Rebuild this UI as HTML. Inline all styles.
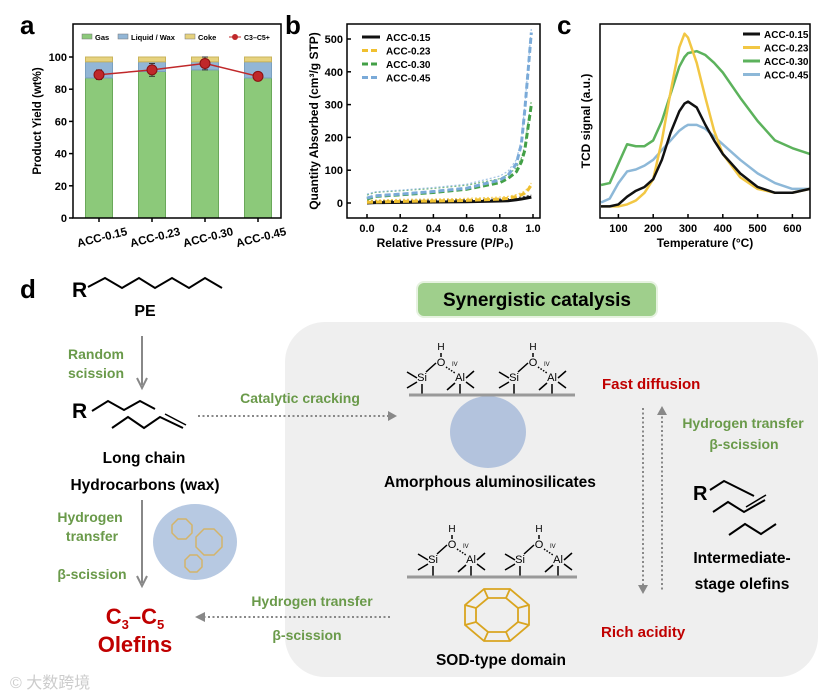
<!DOCTYPE html>
<html><head><meta charset="utf-8"><style>
html,body{margin:0;padding:0;background:#fff}
svg{display:block;font-family:"Liberation Sans",Arial,sans-serif}
.b{font-weight:bold}
</style></head><body>
<svg id="fig" width="827" height="696" viewBox="0 0 827 696" xmlns="http://www.w3.org/2000/svg">
<rect width="827" height="696" fill="#fff"/>
<g id="pa"></g>
<g id="pb"></g>
<g id="pc"></g>
<g id="pd">
<text x="20" y="298" font-size="26" class="b">d</text>
<rect x="285" y="322" width="533" height="355" rx="40" fill="#efefef"/>
<rect x="417" y="282" width="240" height="35" rx="7" fill="#9fcf8c" stroke="#e6f2e0" stroke-width="2"/>
<text x="537" y="306" font-size="19" class="b" text-anchor="middle">Synergistic catalysis</text>
<text x="72" y="297" font-size="21" class="b">R</text>
<polyline points="88,287 105,278 122,288 139,278 155,288 172,278 189,288 205,278 222,288" fill="none" stroke="#000" stroke-width="2"/>
<text x="145" y="316" font-size="16" class="b" text-anchor="middle">PE</text>
<line x1="142" y1="336" x2="142" y2="385" stroke="#888" stroke-width="2"/><path d="M137,378 L142,388 L147,378" fill="none" stroke="#888" stroke-width="2"/>
<g fill="#6a9a4a" font-size="14" class="b" text-anchor="middle">
<text x="96" y="359">Random</text>
<text x="96" y="378">scission</text>
<text x="300" y="403">Catalytic cracking</text>
<text x="90" y="522">Hydrogen</text>
<text x="92" y="541">transfer</text>
<text x="92" y="579">β-scission</text>
<text x="312" y="606">Hydrogen transfer</text>
<text x="307" y="640">β-scission</text>
<text x="743" y="428">Hydrogen transfer</text>
<text x="744" y="449">β-scission</text>
</g>
<text x="72" y="418" font-size="21" class="b">R</text>
<polyline points="92,411 108,401 124,410 140,401 155,409" fill="none" stroke="#000" stroke-width="2"/>
<polyline points="112,428 128,417 144,428 160,417 183,428" fill="none" stroke="#000" stroke-width="2"/>
<line x1="165" y1="414" x2="186" y2="425" stroke="#000" stroke-width="1.5"/>
<g font-size="15.5" class="b" text-anchor="middle">
<text x="144" y="463">Long chain</text>
<text x="145" y="490">Hydrocarbons (wax)</text>
<text x="490" y="487">Amorphous aluminosilicates</text>
<text x="501" y="665">SOD-type domain</text>
<text x="742" y="563">Intermediate-</text>
<text x="742" y="589">stage olefins</text>
</g>
<line x1="198" y1="416" x2="392" y2="416" stroke="#888" stroke-width="2" stroke-dasharray="2,2.5"/><path d="M388,411 L397,416 L388,421Z" fill="#888"/>
<line x1="142" y1="500" x2="142" y2="583" stroke="#888" stroke-width="2"/><path d="M137,576 L142,586 L147,576" fill="none" stroke="#888" stroke-width="2"/>
<g>
<ellipse cx="195" cy="542" rx="42" ry="38" fill="#b7c9e2"/>
<polygon points="172,525 178,519 186,519 192,525 192,533 186,539 178,539 172,533" fill="none" stroke="#d4b46a" stroke-width="1.5"/>
<polygon points="196,537 204,529 214,529 222,537 222,547 214,555 204,555 196,547" fill="none" stroke="#d4b46a" stroke-width="1.5"/>
<polygon points="185,560 190,555 197,555 202,560 202,567 197,572 190,572 185,567" fill="none" stroke="#d4b46a" stroke-width="1.5"/>
</g>
<text x="135" y="624" font-size="22" class="b" fill="#c00000" text-anchor="middle">C<tspan font-size="13" dy="5">3</tspan><tspan dy="-5">–C</tspan><tspan font-size="13" dy="5">5</tspan></text>
<text x="135" y="652" font-size="22" class="b" fill="#c00000" text-anchor="middle">Olefins</text>
<line x1="390" y1="617" x2="202" y2="617" stroke="#888" stroke-width="2" stroke-dasharray="2,2.5"/><path d="M205,612 L195,617 L205,622Z" fill="#888"/>
<text x="10" y="688" font-size="16" fill="#ccc">© 大数跨境</text>
<g id="struct"></g>
<ellipse cx="488" cy="432" rx="38" ry="36" fill="#b3c3dd"/>
<line x1="409" y1="395" x2="575" y2="395" stroke="#999" stroke-width="3"/>
<line x1="407" y1="577" x2="577" y2="577" stroke="#999" stroke-width="3"/>
<g fill="none" stroke="#d9a520" stroke-width="1.8">
<polygon points="484,589 510,589 529,605 529,625 510,641 484,641 465,625 465,605"/>
<polygon points="488,598 506,598 518,608 518,622 506,632 488,632 476,622 476,608"/>
<line x1="484" y1="589" x2="488" y2="598"/><line x1="510" y1="589" x2="506" y2="598"/><line x1="529" y1="605" x2="518" y2="608"/><line x1="529" y1="625" x2="518" y2="622"/><line x1="510" y1="641" x2="506" y2="632"/><line x1="484" y1="641" x2="488" y2="632"/><line x1="465" y1="625" x2="476" y2="622"/><line x1="465" y1="605" x2="476" y2="608"/>
</g>
<text x="602" y="389" font-size="15" class="b" fill="#c00000">Fast diffusion</text>
<text x="601" y="637" font-size="15" class="b" fill="#c00000">Rich acidity</text>
<line x1="643" y1="408" x2="643" y2="588" stroke="#888" stroke-width="2" stroke-dasharray="2,2.5"/><path d="M638,585 L643,594 L648,585Z" fill="#888"/>
<line x1="662" y1="412" x2="662" y2="592" stroke="#888" stroke-width="2" stroke-dasharray="2,2.5"/><path d="M657,415 L662,406 L667,415Z" fill="#888"/>
<text x="693" y="500" font-size="20" class="b">R</text>
<polyline points="710,490 724,481 754,496" fill="none" stroke="#000" stroke-width="2"/>
<polyline points="713,512 728,502 744,512 765,500" fill="none" stroke="#000" stroke-width="2"/>
<line x1="746" y1="507" x2="766" y2="495" stroke="#000" stroke-width="1.5"/>
<polyline points="729,535 745,524 761,534 776,524" fill="none" stroke="#000" stroke-width="2"/>
</g>
<script>
var NS='http://www.w3.org/2000/svg';
function el(p,t,a,txt){var e=document.createElementNS(NS,t);for(var k in a)e.setAttribute(k,a[k]);if(txt!==undefined)e.textContent=txt;p.appendChild(e);return e;}

/* ---------- panel a data ---------- */
var aCats=['ACC-0.15','ACC-0.23','ACC-0.30','ACC-0.45'];
var aGas=[87,91,92,87];
var aLiquid=[10,6,5,10];
var aCoke=[3,3,3,3];
var aC3C5=[89,92,96,88];
var aErr=[3,4,4,1];
var aTicks=[0,20,40,60,80,100];

/* ---------- panel b data ---------- */
var bP=[0.0,0.05,0.2,0.4,0.6,0.8,0.85,0.9,0.93,0.95,0.97,0.99];
var b015=[0,1,2,3,4,6,7,10,12,14,16,18];
var b023=[2,3,5,6,8,12,14,20,25,30,40,55];
var b030=[12,20,25,32,42,62,75,95,125,160,230,300];
var b045=[15,22,27,35,45,70,85,120,180,280,400,520];
var bYTicks=[0,100,200,300,400,500];
var bXTicks=[0.0,0.2,0.4,0.6,0.8,1.0];

/* ---------- panel c data ---------- */
var cTemps=[50,75,100,125,150,175,200,225,250,275,290,300,325,350,375,400,450,500,550,600,650];
var c015=[6,6,7,11,14,16,20,30,44,55,59,60,57,48,40,33,23,16,13,13,15];
var c023=[6,6,6,7,9,13,20,40,65,88,95,93,80,62,45,33,21,15,13,13,15];
var c030=[17,18,28,38,37,37,40,50,64,78,83,85,86,84,80,75,62,50,40,36,33];
var c045=[8,10,18,24,25,27,30,35,40,45,47,48,48,46,42,38,30,23,18,15,15];
var cXTicks=[100,200,300,400,500,600];

/* ===== Panel A ===== */
var pa=document.getElementById('pa');
var aL=73,aR=281,aTop=24,aB=218;
function ay(v){return 218-v*1.61;}
function ax(i){return 99+i*53;}
el(pa,'text',{x:20,y:34,'font-size':26,'font-weight':'bold'},'a');
aTicks.forEach(function(t){
  el(pa,'line',{x1:aL-4,y1:ay(t),x2:aL,y2:ay(t),stroke:'#000','stroke-width':1.5});
  var tx=el(pa,'text',{x:aL-6,y:ay(t)+4,'font-size':11,'font-weight':'bold','text-anchor':'end'},t);
  
  
});
aCats.forEach(function(c,i){
  var x=ax(i),w=27,g=aGas[i],l=aLiquid[i],k=aCoke[i];
  var r1=el(pa,'rect',{x:x-w/2,y:ay(g),width:w,height:ay(0)-ay(g),fill:'#8cc97a',stroke:'#6aa85a'});
  
  
  var r2=el(pa,'rect',{x:x-w/2,y:ay(g+l),width:w,height:ay(g)-ay(g+l),fill:'#92b6d6',stroke:'#7aa0c0'});
  
  
  var r3=el(pa,'rect',{x:x-w/2,y:ay(g+l+k),width:w,height:ay(g+l)-ay(g+l+k),fill:'#e6d27e',stroke:'#c9b45c'});
  
  
  el(pa,'line',{x1:x,y1:ay(aC3C5[i]+aErr[i]),x2:x,y2:ay(aC3C5[i]-aErr[i]),stroke:'#333'});
  el(pa,'line',{x1:x-3,y1:ay(aC3C5[i]+aErr[i]),x2:x+3,y2:ay(aC3C5[i]+aErr[i]),stroke:'#333'});
  el(pa,'line',{x1:x-3,y1:ay(aC3C5[i]-aErr[i]),x2:x+3,y2:ay(aC3C5[i]-aErr[i]),stroke:'#333'});
  el(pa,'line',{x1:x,y1:aB,x2:x,y2:aB+4,stroke:'#000','stroke-width':1.5});
  var lb=el(pa,'text',{x:x+4,y:241,'font-size':11.5,'font-weight':'bold','text-anchor':'middle',transform:'rotate(-14 '+(x+4)+' 241)'},c);
  
  
});
var pts=aC3C5.map(function(v,i){return ax(i)+','+ay(v);}).join(' ');
var ln=el(pa,'polyline',{points:pts,fill:'none',stroke:'#c0282a','stroke-width':1.5});


aC3C5.forEach(function(v,i){
  var d=el(pa,'circle',{cx:ax(i),cy:ay(v),r:5,fill:'#c0282a',stroke:'#8a1010'});
  
  
});
el(pa,'rect',{x:aL,y:aTop,width:aR-aL,height:aB-aTop,fill:'none',stroke:'#000','stroke-width':1.5});
var yt=el(pa,'text',{x:41,y:121,'font-size':11.5,'font-weight':'bold','text-anchor':'middle',transform:'rotate(-90 41 121)'},'Product Yield (wt%)');


var lg=[['#8cc97a',82,'Gas'],['#92b6d6',118,'Liquid / Wax'],['#e6d27e',185,'Coke']];
lg.forEach(function(q){
  el(pa,'rect',{x:q[1],y:34,width:10,height:5,fill:q[0],stroke:'#777','stroke-width':.5});
  var t=el(pa,'text',{x:q[1]+13,y:40,'font-size':7.5,'font-weight':'bold'},q[2]);
  
  
});
el(pa,'line',{x1:229,y1:37,x2:241,y2:37,stroke:'#c0282a'});
el(pa,'circle',{cx:235,cy:37,r:3,fill:'#c0282a'});
el(pa,'text',{x:244,y:40,'font-size':7,'font-weight':'bold'},'C3–C5+');

/* ===== Panel B ===== */
var pb=document.getElementById('pb');
var bL=347,bR=540,bTop=24,bB=218;
function bx(p){return 367+p*166;}
function by(v){return 203-v*0.328;}
el(pb,'text',{x:285,y:34,'font-size':26,'font-weight':'bold'},'b');
bYTicks.forEach(function(t){
  el(pb,'line',{x1:bL,y1:by(t),x2:bL+4,y2:by(t),stroke:'#000','stroke-width':1.5});
  var tx=el(pb,'text',{x:bL-4,y:by(t)+4,'font-size':11,'font-weight':'bold','text-anchor':'end'},t);
  
  
});
bXTicks.forEach(function(t){
  el(pb,'line',{x1:bx(t),y1:bB,x2:bx(t),y2:bB-4,stroke:'#000','stroke-width':1.5});
  var tx=el(pb,'text',{x:bx(t),y:232,'font-size':11,'font-weight':'bold','text-anchor':'middle'},t.toFixed(1));
  
  
});
var bSeries=[[b015,'#111','ACC-0.15'],[b023,'#f0c030','ACC-0.23'],[b030,'#43a047','ACC-0.30'],[b045,'#7aaad8','ACC-0.45']];
bSeries.forEach(function(s,j){
  var p=bP.map(function(x,i){return bx(x)+','+by(s[0][i]);}).join(' ');
  var l=el(pb,'polyline',{points:p,fill:'none',stroke:s[1],'stroke-width':3,'stroke-dasharray':j==0?'none':'6,3'});
  
  
  var p2=bP.map(function(x,i){return bx(x)+','+(by(s[0][i])+(j>1?-4:-2));}).join(' ');
  el(pb,'polyline',{points:p2,fill:'none',stroke:s[1],'stroke-width':1.2,'stroke-dasharray':'2,2',opacity:.7});
  var y=41+j*13.5;
  el(pb,'line',{x1:362,y1:y-4,x2:380,y2:y-4,stroke:s[1],'stroke-width':3,'stroke-dasharray':j==0?'none':'6,3'});
  var t=el(pb,'text',{x:386,y:y,'font-size':10,'font-weight':'bold'},s[2]);
  
  
});
el(pb,'rect',{x:bL,y:bTop,width:bR-bL,height:bB-bTop,fill:'none',stroke:'#000','stroke-width':1.5});
var bt=el(pb,'text',{x:318,y:121,'font-size':12,'font-weight':'bold','text-anchor':'middle',transform:'rotate(-90 318 121)'},'Quantity Absorbed (cm³/g STP)');


var bxT=el(pb,'text',{x:445,y:247,'font-size':12,'font-weight':'bold','text-anchor':'middle'},'Relative Pressure (P/P₀)');



/* ===== Panel C ===== */
var pc=document.getElementById('pc');
var cL=600,cR=810,cTop=24,cB=218;
function cx(t){return 601+(t-50)*0.348;}
function cy(v){return 218-v*1.94;}
el(pc,'text',{x:557,y:34,'font-size':26,'font-weight':'bold'},'c');
cXTicks.forEach(function(t){
  el(pc,'line',{x1:cx(t),y1:cB,x2:cx(t),y2:cB-4,stroke:'#000','stroke-width':1.5});
  var tx=el(pc,'text',{x:cx(t),y:232,'font-size':11,'font-weight':'bold','text-anchor':'middle'},t);
  
  
});
var cSeries=[[c030,'#5cb25c','ACC-0.30'],[c045,'#8db8d8','ACC-0.45'],[c023,'#f2c744','ACC-0.23'],[c015,'#111','ACC-0.15']];
cSeries.forEach(function(s){
  var p=cTemps.map(function(t,i){return cx(t)+','+cy(s[0][i]);}).join(' ');
  var l=el(pc,'polyline',{points:p,fill:'none',stroke:s[1],'stroke-width':2.5,'stroke-linejoin':'round'});
  
  
});
var cLeg=[['#111','ACC-0.15'],['#f2c744','ACC-0.23'],['#5cb25c','ACC-0.30'],['#8db8d8','ACC-0.45']];
cLeg.forEach(function(q,j){
  var y=38+j*13.5;
  el(pc,'line',{x1:743,y1:y-4,x2:760,y2:y-4,stroke:q[0],'stroke-width':3});
  var t=el(pc,'text',{x:764,y:y,'font-size':10,'font-weight':'bold'},q[1]);
  
  
});
el(pc,'rect',{x:cL,y:cTop,width:cR-cL,height:cB-cTop,fill:'none',stroke:'#000','stroke-width':1.5});
var ct=el(pc,'text',{x:590,y:121,'font-size':12,'font-weight':'bold','text-anchor':'middle',transform:'rotate(-90 590 121)'},'TCD signal (a.u.)');


var cxT=el(pc,'text',{x:705,y:247,'font-size':12,'font-weight':'bold','text-anchor':'middle'},'Temperature (°C)');



/* ===== Si-O-Al structures ===== */
var st=document.getElementById('struct');
function group(x,y){
  el(st,'text',{x:x,y:y,'font-size':11,'text-anchor':'middle'},'Si');
  el(st,'text',{x:x+38,y:y,'font-size':11,'text-anchor':'middle'},'Al');
  el(st,'text',{x:x+19,y:y-15,'font-size':11,'text-anchor':'middle'},'O');
  el(st,'text',{x:x+19,y:y-31,'font-size':10,'text-anchor':'middle'},'H');
  el(st,'text',{x:x+30,y:y-15,'font-size':6},'IV');
  var s='#000';
  [[x,y+3,x,y+14],[x-5,y-3,x-15,y-9],[x-5,y+1,x-15,y+7],[x+4,y-9,x+14,y-18],
   [x+38,y+3,x+38,y+14],[x+44,y-3,x+52,y-10],[x+44,y+1,x+52,y+7],[x+33,y+2,x+25,y+9],[x+19,y-28,x+19,y-24]].forEach(function(c){
    el(st,'line',{x1:c[0],y1:c[1],x2:c[2],y2:c[3],stroke:s,'stroke-width':1.5});
  });
  el(st,'line',{x1:x+24,y1:y-14,x2:x+33,y2:y-8,stroke:s,'stroke-width':1.5,'stroke-dasharray':'1.5,1.5'});
}
group(422,381);group(514,381);group(433,563);group(520,563);
</script>
</svg>
</body></html>
